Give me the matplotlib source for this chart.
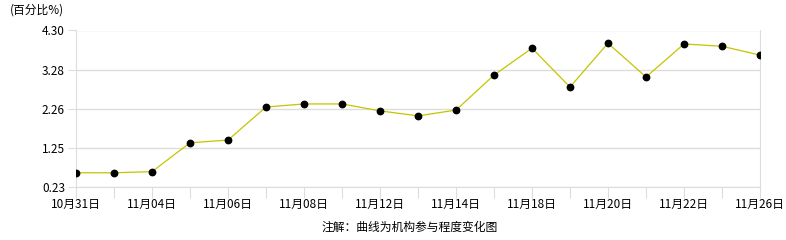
import matplotlib
matplotlib.use("Agg")
import matplotlib.pyplot as plt

plt.rcParams['font.family'] = ['Noto Sans CJK SC', 'DejaVu Sans']

dates = ["10月31日", "11月01日", "11月04日", "11月05日", "11月06日", "11月07日",
         "11月08日", "11月11日", "11月12日", "11月13日", "11月14日", "11月15日",
         "11月18日", "11月19日", "11月20日", "11月21日", "11月22日", "11月25日",
         "11月26日"]
values = [0.60, 0.60, 0.63, 1.38, 1.45, 2.31, 2.39, 2.39, 2.21, 2.08, 2.23,
          3.14, 3.84, 2.83, 3.97, 3.09, 3.95, 3.89, 3.66]
y_ticks = [0.23, 1.25, 2.26, 3.28, 4.30]

grid_c = '#dddddd'

fig = plt.figure(figsize=(7.86, 2.40), dpi=100)
ax = fig.add_axes([76 / 786, 1 - 187 / 240, (760 - 76) / 786, (187 - 30.5) / 240])

x = list(range(len(values)))
ax.plot(x, values, color='#c4c400', linewidth=0.9, zorder=3)
ax.plot(x, values, 'o', color='black', markersize=4.6, zorder=4)

ax.set_xlim(0, len(values) - 1)
ax.set_ylim(y_ticks[0], y_ticks[-1])
ax.set_yticks(y_ticks)
ax.set_yticklabels([f"{v:.2f}" for v in y_ticks], fontsize=8.5)
ax.set_xticks(x)
ax.set_xticklabels([d if i % 2 == 0 else "" for i, d in enumerate(dates)], fontsize=8.5)

ax.grid(axis='y', color=grid_c, linewidth=1)
for s in ['left', 'right', 'bottom']:
    ax.spines[s].set_color(grid_c)
ax.spines['top'].set_visible(False)
ax.tick_params(axis='x', length=8, color=grid_c, pad=0)
ax.tick_params(axis='y', length=6, color=grid_c, pad=2)

fig.text(10 / 786, 1 - 10 / 240, "(百分比%)", fontsize=8.5, va='center', ha='left')
fig.text(410 / 786, 1 - 227 / 240, "注解：曲线为机构参与程度变化图", fontsize=8.5,
         va='center', ha='center')

fig.savefig("out.png", dpi=100)
